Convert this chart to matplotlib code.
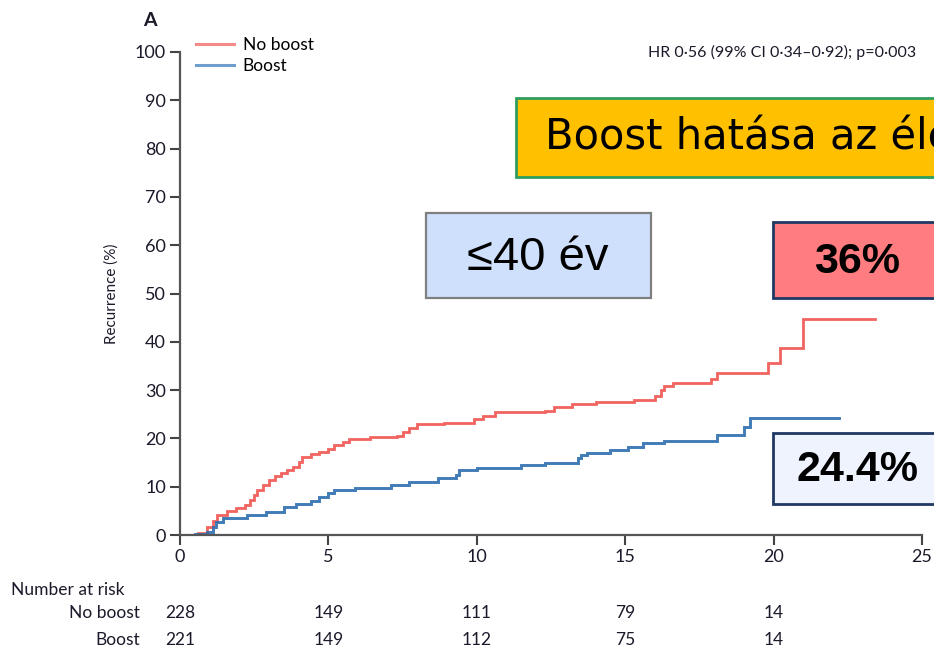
import matplotlib
matplotlib.use("Agg")
import matplotlib.pyplot as plt
from matplotlib.patches import Rectangle
from matplotlib.lines import Line2D

# ---------------- data ----------------
no_boost_t = [0, 0.6, 0.9, 1.1, 1.25, 1.6, 1.9, 2.2, 2.35, 2.5, 2.6, 2.8, 3.0, 3.2, 3.4,
              3.6, 3.8, 4.0, 4.1, 4.4, 4.7, 5.0, 5.2, 5.5, 5.7, 6.4, 7.3, 7.5, 7.7, 8.0,
              8.9, 9.9, 10.2, 10.6, 12.3, 12.6, 13.2, 14.0, 15.3, 16.0, 16.2, 16.3, 16.6,
              17.9, 18.1, 19.8, 20.2, 21.0, 23.4]
no_boost_v = [0, 0.4, 1.7, 3.0, 4.1, 4.9, 5.5, 6.3, 7.2, 8.2, 9.3, 10.4, 11.4, 12.2, 12.8,
              13.5, 14.1, 15.2, 16.1, 16.7, 17.2, 17.9, 18.6, 19.3, 19.9, 20.3, 20.5, 21.3,
              22.2, 23.0, 23.2, 24.0, 24.7, 25.4, 25.7, 26.4, 27.1, 27.5, 28.0, 28.7, 30.0,
              30.8, 31.4, 32.2, 33.5, 35.6, 38.7, 44.7, 44.7]

boost_t = [0, 0.5, 0.9, 1.1, 1.2, 1.45, 2.25, 2.9, 3.5, 3.9, 4.4, 4.7, 5.0, 5.2, 5.9,
           7.1, 7.7, 8.7, 9.3, 9.4, 10.0, 11.5, 12.3, 13.4, 13.5, 13.7, 14.5, 15.1,
           15.6, 16.3, 18.1, 19.0, 19.2, 22.2]
boost_v = [0, 0.2, 0.6, 1.6, 2.7, 3.5, 4.1, 4.8, 5.8, 6.4, 7.0, 7.9, 8.6, 9.3, 9.7,
           10.4, 11.0, 11.8, 12.4, 13.5, 13.9, 14.5, 15.0, 15.9, 16.6, 17.0, 17.6, 18.2,
           19.0, 19.5, 20.7, 22.4, 24.2, 24.2]

risk_times = [0, 5, 10, 15, 20]
risk_no_boost = [228, 149, 111, 79, 14]
risk_boost = [221, 149, 112, 75, 14]

x_ticks = [0, 5, 10, 15, 20, 25]
y_ticks = [0, 10, 20, 30, 40, 50, 60, 70, 80, 90, 100]

# ---------------- figure ----------------
W, H = 934, 655
fig = plt.figure(figsize=(W / 100, H / 100), dpi=100)
plt.rcParams['font.family'] = ['Lato', 'DejaVu Sans']

def fx(px):
    return px / W

def fy(py):
    return 1 - py / H

ax = fig.add_axes([fx(180), fy(535), fx(922) - fx(180), fy(52) - fy(535)])

red = '#f0534f'
blue = '#2c6eb0'
ax.plot(no_boost_t, no_boost_v, drawstyle='steps-post', color=red, lw=2.0, alpha=0.9,
        solid_joinstyle='miter')
ax.plot(boost_t, boost_v, drawstyle='steps-post', color=blue, lw=2.1, alpha=0.9,
        solid_joinstyle='miter')

ax.set_xlim(0, 25)
ax.set_ylim(0, 100)
ax.set_xticks(x_ticks)
ax.set_yticks(y_ticks)
ax.spines['top'].set_visible(False)
ax.spines['right'].set_visible(False)
for s in ['left', 'bottom']:
    ax.spines[s].set_color('#555555')
    ax.spines[s].set_linewidth(1.6)
ax.tick_params(axis='both', direction='out', length=7, width=1.5, color='#444444',
               labelsize=13, labelcolor='#1a1a2a', pad=3)
ax.set_ylabel('Recurrence (%)', fontsize=11, color='#1a1a2a', labelpad=12)
ax.patch.set_alpha(0)

handles = [Line2D([0], [0], color='#f58a8a', lw=2.2),
           Line2D([0], [0], color='#6f9fce', lw=2.2)]
ax.legend(handles, ['No boost', 'Boost'], loc='upper left', bbox_to_anchor=(0.012, 1.045),
          frameon=False, fontsize=12.5, handlelength=2.2, handletextpad=0.5,
          labelspacing=0.3, borderaxespad=0)

ax.text(0.992, 1.0, 'HR 0·56 (99% CI 0·34–0·92); p=0·003', transform=ax.transAxes,
        ha='right', va='center', fontsize=11.5, color='#1a1a2a')
fig.text(fx(143), fy(20), 'A', ha='left', va='center', fontsize=14, fontweight='bold',
         color='#1a1a2a')

# Number at risk
tr = ax.get_xaxis_transform()
ax.text(-5.7, -0.114, 'Number at risk', transform=tr, ha='left', va='center',
        fontsize=12.5, color='#1a1a2a', clip_on=False)
ax.text(-1.35, -0.161, 'No boost', transform=tr, ha='right', va='center',
        fontsize=12.5, color='#1a1a2a', clip_on=False)
ax.text(-1.35, -0.217, 'Boost', transform=tr, ha='right', va='center',
        fontsize=12.5, color='#1a1a2a', clip_on=False)
for t, a, b in zip(risk_times, risk_no_boost, risk_boost):
    ax.text(t, -0.161, str(a), transform=tr, ha='center', va='center', fontsize=12.5,
            color='#1a1a2a', clip_on=False)
    ax.text(t, -0.217, str(b), transform=tr, ha='center', va='center', fontsize=12.5,
            color='#1a1a2a', clip_on=False)

# Overlay boxes (figure pixels)
def box(x0, y0, x1, y1, fc, ec, lw):
    fig.add_artist(Rectangle((fx(x0), fy(y1)), fx(x1) - fx(x0), fy(y0) - fy(y1),
                             transform=fig.transFigure, facecolor=fc, edgecolor=ec,
                             linewidth=lw, zorder=5))

box(516, 98, 960, 177, '#ffc000', '#2e9e5e', 2)
fig.text(fx(545), fy(138), 'Boost hatása az életkor szerint', ha='left', va='center',
         fontsize=30, family='DejaVu Sans', color='black', zorder=6)

box(426, 213, 651, 298, '#cfe0fc', '#7f7f7f', 1.6)
fig.text(fx(538), fy(258), '≤40 év', ha='center', va='center', fontsize=34,
         family='Liberation Sans', color='black', zorder=6)

box(773, 222, 960, 298, '#ff7c80', '#1f3864', 2)
fig.text(fx(857), fy(262), '36%', ha='center', va='center', fontsize=31,
         family='Liberation Sans', fontweight='bold', color='black', zorder=6)

box(773, 433, 960, 504, '#eef3fe', '#1f3864', 2)
fig.text(fx(857), fy(470), '24.4%', ha='center', va='center', fontsize=31,
         family='Liberation Sans', fontweight='bold', color='black', zorder=6)

fig.savefig('out.png', dpi=100)
